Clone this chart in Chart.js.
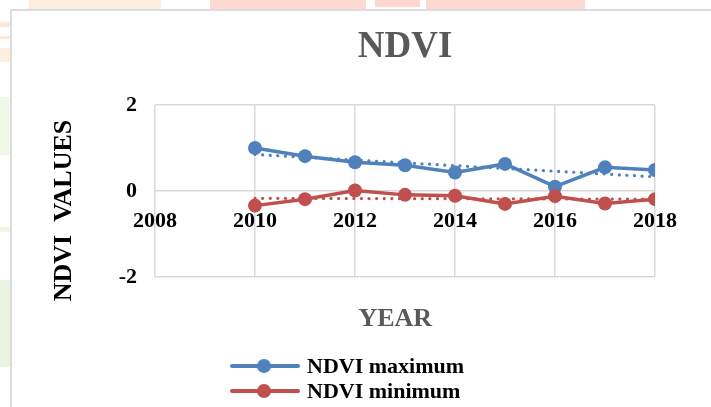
<!DOCTYPE html>
<html><head><meta charset="utf-8">
<script src="https://cdn.jsdelivr.net/npm/chart.js@4"></script>
<style>
html,body{margin:0;padding:0;background:#fff;}
#wrap{position:relative;width:711px;height:407px;overflow:hidden;background:#fff;}
.wm{position:absolute;}
#box{position:absolute;left:10px;top:9px;width:720px;height:420px;border-left:2px solid #dcdcdc;border-top:2px solid #dcdcdc;background:#fff;}
#c{position:absolute;left:0;top:0;}
#legend{position:absolute;left:230px;top:353px;font:bold 22px "Liberation Serif",serif;color:#000;}
.row{height:25px;display:flex;align-items:center;white-space:nowrap;}
.sw{position:relative;width:70px;height:14px;margin-right:7px;}
.sw .ln{position:absolute;left:0;top:5px;width:70px;height:4px;border-radius:2px;}
.sw .dot{position:absolute;left:27px;top:0;width:14px;height:14px;border-radius:7px;}
</style></head>
<body>
<div id="wrap">
  <div class="wm" style="left:29px;top:0;width:132px;height:10px;background:#fdeedd;"></div>
  <div class="wm" style="left:210px;top:0;width:156px;height:10px;background:#fdd9d1;"></div>
  <div class="wm" style="left:375px;top:0;width:45px;height:7px;background:#fdd9d1;"></div>
  <div class="wm" style="left:426px;top:0;width:159px;height:10px;background:#fdd9d1;"></div>
  <div class="wm" style="left:0;top:22px;width:10px;height:5px;background:#fde9da;"></div>
  <div class="wm" style="left:0;top:36px;width:10px;height:3px;background:#fde9da;"></div>
  <div class="wm" style="left:0;top:48px;width:10px;height:14px;background:#fdeedf;"></div>
  <div class="wm" style="left:0;top:97px;width:10px;height:58px;background:#f1f8ea;"></div>
  <div class="wm" style="left:0;top:227px;width:10px;height:5px;background:#eef6e7;"></div>
  <div class="wm" style="left:0;top:280px;width:10px;height:87px;background:#ebf4e3;"></div>
  <div id="box"></div>
  <canvas id="c" width="711" height="407"></canvas>
  <div id="legend"></div>
</div>
<script>
const years = [2010, 2011, 2012, 2013, 2014, 2015, 2016, 2017, 2018];
const ndviMax = [1.00, 0.81, 0.67, 0.60, 0.43, 0.63, 0.10, 0.55, 0.49];
const ndviMin = [-0.34, -0.19, 0.01, -0.09, -0.11, -0.30, -0.12, -0.29, -0.19];
const trendYears = [2010, 2018];
const trendMax = [0.85, 0.33];
const trendMin = [-0.17, -0.19];
const xTickLabels = ['2008', '2010', '2012', '2014', '2016', '2018'];
const yTickLabels = ['-2', '0', '2'];
const seriesNames = ['NDVI maximum', 'NDVI minimum'];

const F = '"Liberation Serif", "Times New Roman", serif';
const BLUE = '#4f81bd', RED = '#c0504d', GRID = '#d9d9d9';

const pts = (xs, ys) => xs.map((x, i) => ({x: x, y: ys[i]}));

const mainStyle = c => ({
  borderColor: c, backgroundColor: c, borderWidth: 3.5,
  pointRadius: 7, pointHoverRadius: 7, pointBackgroundColor: c, pointBorderColor: c,
  pointBorderWidth: 0, tension: 0, fill: false
});
const trendStyle = c => ({
  borderColor: c, borderWidth: 3.2, borderDash: [0.1, 7.5], borderCapStyle: 'round',
  pointRadius: 0, tension: 0, fill: false, order: 3
});

const chart = new Chart(document.getElementById('c'), {
  type: 'line',
  data: {
    datasets: [
      Object.assign({label: seriesNames[0], data: pts(years, ndviMax), order: 2}, mainStyle(BLUE)),
      Object.assign({label: seriesNames[1], data: pts(years, ndviMin), order: 1}, mainStyle(RED)),
      Object.assign({label: 'trend max', data: pts(trendYears, trendMax)}, trendStyle(BLUE)),
      Object.assign({label: 'trend min', data: pts(trendYears, trendMin)}, trendStyle(RED))
    ]
  },
  options: {
    responsive: false,
    animation: false,
    layout: {padding: {left: 10, right: 56, top: 0, bottom: 0}},
    plugins: {
      legend: {display: false},
      tooltip: {enabled: false},
      title: {
        display: true, text: 'NDVI', color: '#595959', fullSize: false,
        font: {family: F, size: 37, weight: 'bold', lineHeight: 1.2},
        padding: {top: 25, bottom: 35.6}
      }
    },
    scales: {
      x: {
        type: 'linear', position: 'bottom', min: 2008, max: 2018,
        ticks: {display: false, stepSize: 2},
        grid: {color: GRID, lineWidth: 1.5, drawTicks: false},
        border: {display: false},
        title: {display: true, text: 'YEAR   ', color: '#595959',
          font: {family: F, size: 26, weight: 'bold', lineHeight: 1.2},
          padding: {top: 0, bottom: 72}},
        afterFit: s => { s.height = 130; }
      },
      x2: {
        type: 'linear', axis: 'x', position: {y: 0}, min: 2008, max: 2018,
        ticks: {stepSize: 2, color: '#000', padding: 17, maxRotation: 0, autoSkip: false,
          font: {family: F, size: 22, weight: 'bold', lineHeight: 1.2},
          callback: v => { const l = xTickLabels.find(t => Number(t) === v); return l === undefined ? '' : l; }},
        grid: {display: false, drawTicks: false},
        border: {display: false}
      },
      y: {
        type: 'linear', position: 'left', min: -2, max: 2,
        ticks: {stepSize: 2, color: '#000', padding: 18,
          font: {family: F, size: 22, weight: 'bold', lineHeight: 1.2},
          callback: v => { const l = yTickLabels.find(t => Number(t) === v); return l === undefined ? '' : l; }},
        grid: {color: GRID, lineWidth: 1.5, drawTicks: false},
        border: {display: false},
        title: {display: true, text: 'NDVI  VALUES      ', color: '#000',
          font: {family: F, size: 26, weight: 'bold', lineHeight: 1.2},
          padding: {top: 38.4, bottom: 0}},
        afterFit: s => { s.width = 145; }
      }
    }
  }
});

// HTML legend built from the chart's own datasets
const lg = document.getElementById('legend');
chart.data.datasets.slice(0, 2).forEach(ds => {
  const row = document.createElement('div'); row.className = 'row';
  const sw = document.createElement('div'); sw.className = 'sw';
  const ln = document.createElement('div'); ln.className = 'ln'; ln.style.background = ds.borderColor;
  const dot = document.createElement('div'); dot.className = 'dot'; dot.style.background = ds.pointBackgroundColor;
  sw.appendChild(ln); sw.appendChild(dot);
  const tx = document.createElement('span'); tx.textContent = ds.label;
  row.appendChild(sw); row.appendChild(tx);
  lg.appendChild(row);
});
</script>
</body></html>
